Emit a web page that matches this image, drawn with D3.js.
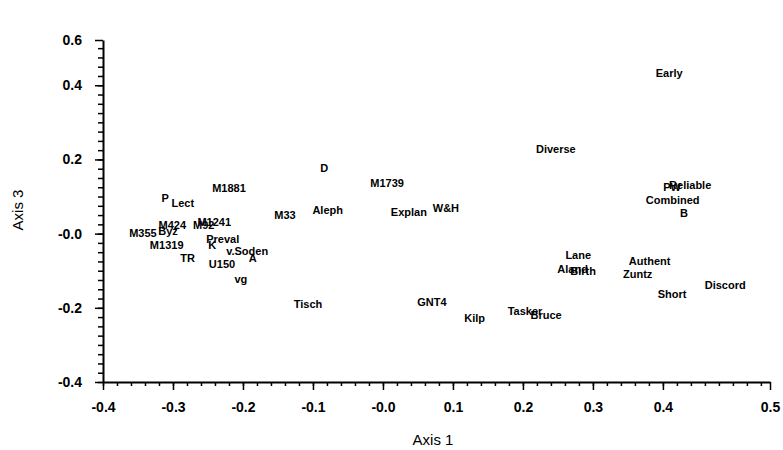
<!DOCTYPE html>
<html>
<head>
<meta charset="utf-8">
<script src="https://cdn.jsdelivr.net/npm/d3@7"></script>
<style>
body { margin: 0; background: #fff; }
text { font-family: "Liberation Sans", Arial, sans-serif; }
.pt { font-size: 11px; font-weight: bold; }
.tick text { font-size: 14px; font-weight: bold; }
</style>
</head>
<body>
<script>
// point labels and their scores on axis 1 and axis 3
var names = ['M1881', 'P', 'Lect', 'M424', 'Byz', 'M355', 'M1241', 'M92', 'Preval', 'K',
	'v.Soden', 'M1319', 'TR', 'A', 'U150', 'vg', 'D', 'M1739', 'Aleph', 'M33',
	'Explan', 'W&H', 'Tisch', 'GNT4', 'Kilp', 'Diverse', 'Lane', 'Aland', 'Birth', 'Tasker',
	'Bruce', 'Early', 'Reliable', 'PW', 'Combined', 'B', 'Authent', 'Zuntz', 'Discord', 'Short']

var axis1 = [-0.220, -0.311, -0.286, -0.301, -0.307, -0.343, -0.241, -0.256, -0.229, -0.244,
	-0.194, -0.309, -0.279, -0.186, -0.230, -0.203, -0.084, 0.006, -0.079, -0.140,
	0.037, 0.090, -0.107, 0.070, 0.131, 0.247, 0.279, 0.271, 0.286, 0.203,
	0.233, 0.409, 0.439, 0.413, 0.414, 0.430, 0.381, 0.364, 0.489, 0.413]

var axis3 = [0.122, 0.095, 0.081, 0.022, 0.008, 0.000, 0.032, 0.024, -0.014, -0.030,
	-0.046, -0.030, -0.065, -0.065, -0.081, -0.124, 0.176, 0.135, 0.062, 0.049,
	0.059, 0.068, -0.189, -0.184, -0.227, 0.227, -0.059, -0.095, -0.100, -0.208,
	-0.219, 0.432, 0.132, 0.124, 0.089, 0.054, -0.073, -0.108, -0.138, -0.162]

// tick values; the last one sits at the end of each axis
var xTicks = [-0.4, -0.3, -0.2, -0.1, 0, 0.1, 0.2, 0.3, 0.4, 0.553]
var xTickLabels = ['-0.4', '-0.3', '-0.2', '-0.1', '-0.0', '0.1', '0.2', '0.3', '0.4', '0.5']
var yTicks = [-0.4, -0.2, 0, 0.2, 0.4, 0.522]
var yTickLabels = ['-0.4', '-0.2', '-0.0', '0.2', '0.4', '0.6']

var width = 783
var height = 450
var margin = {top: 40, right: 13, bottom: 68, left: 103}

var svg = d3.select('body')
	.append('svg')
		.attr('width', width)
		.attr('height', height)

var x = d3.scaleLinear()
	.domain([-0.4, xTicks[xTicks.length - 1]])
	.range([margin.left, width - margin.right])

var y = d3.scaleLinear()
	.domain([-0.4, yTicks[yTicks.length - 1]])
	.range([height - margin.bottom, margin.top])

// minor ticks
svg.append('g')
	.attr('transform', 'translate(0,' + (height - margin.bottom) + ')')
	.call(d3.axisBottom(x).tickValues(d3.range(-0.4, 0.55, 0.02)).tickSize(4).tickSizeOuter(0).tickFormat(''))
	.call(function(g) { g.select('.domain').remove() })
	.selectAll('line').attr('stroke-width', 1.5)

svg.append('g')
	.attr('transform', 'translate(' + margin.left + ',0)')
	.call(d3.axisLeft(y).tickValues(d3.range(-0.4, 0.52, 0.025)).tickSize(5).tickSizeOuter(0).tickFormat(''))
	.call(function(g) { g.select('.domain').remove() })
	.selectAll('line').attr('stroke-width', 1.5)

// major ticks and labels
var xAxis = svg.append('g')
	.attr('transform', 'translate(0,' + (height - margin.bottom) + ')')
	.call(d3.axisBottom(x).tickValues(xTicks).tickSize(8).tickSizeOuter(0).tickPadding(12)
		.tickFormat(function(d, i) { return xTickLabels[i] }))
xAxis.select('.domain').attr('stroke-width', 2)
xAxis.selectAll('line').attr('stroke-width', 1.5)

var yAxis = svg.append('g')
	.attr('transform', 'translate(' + margin.left + ',0)')
	.call(d3.axisLeft(y).tickValues(yTicks).tickSize(8).tickSizeOuter(0).tickPadding(13)
		.tickFormat(function(d, i) { return yTickLabels[i] }))
yAxis.select('.domain').attr('stroke-width', 2)
yAxis.selectAll('line').attr('stroke-width', 1.5)

svg.selectAll('.tick text').attr('fill', '#000')

// axis titles
svg.append('text')
	.attr('x', 433)
	.attr('y', 445)
	.attr('text-anchor', 'middle')
	.style('font-size', '15px')
	.text('Axis 1')

svg.append('text')
	.attr('transform', 'translate(23,210) rotate(-90)')
	.attr('text-anchor', 'middle')
	.style('font-size', '15px')
	.text('Axis 3')

// point labels
svg.append('g')
	.selectAll('text')
	.data(names)
	.enter().append('text')
		.attr('class', 'pt')
		.attr('x', function(d, i) { return x(axis1[i]) })
		.attr('y', function(d, i) { return y(axis3[i]) })
		.attr('dy', '0.35em')
		.attr('text-anchor', 'middle')
		.text(function(d) { return d })
</script>
</body>
</html>
